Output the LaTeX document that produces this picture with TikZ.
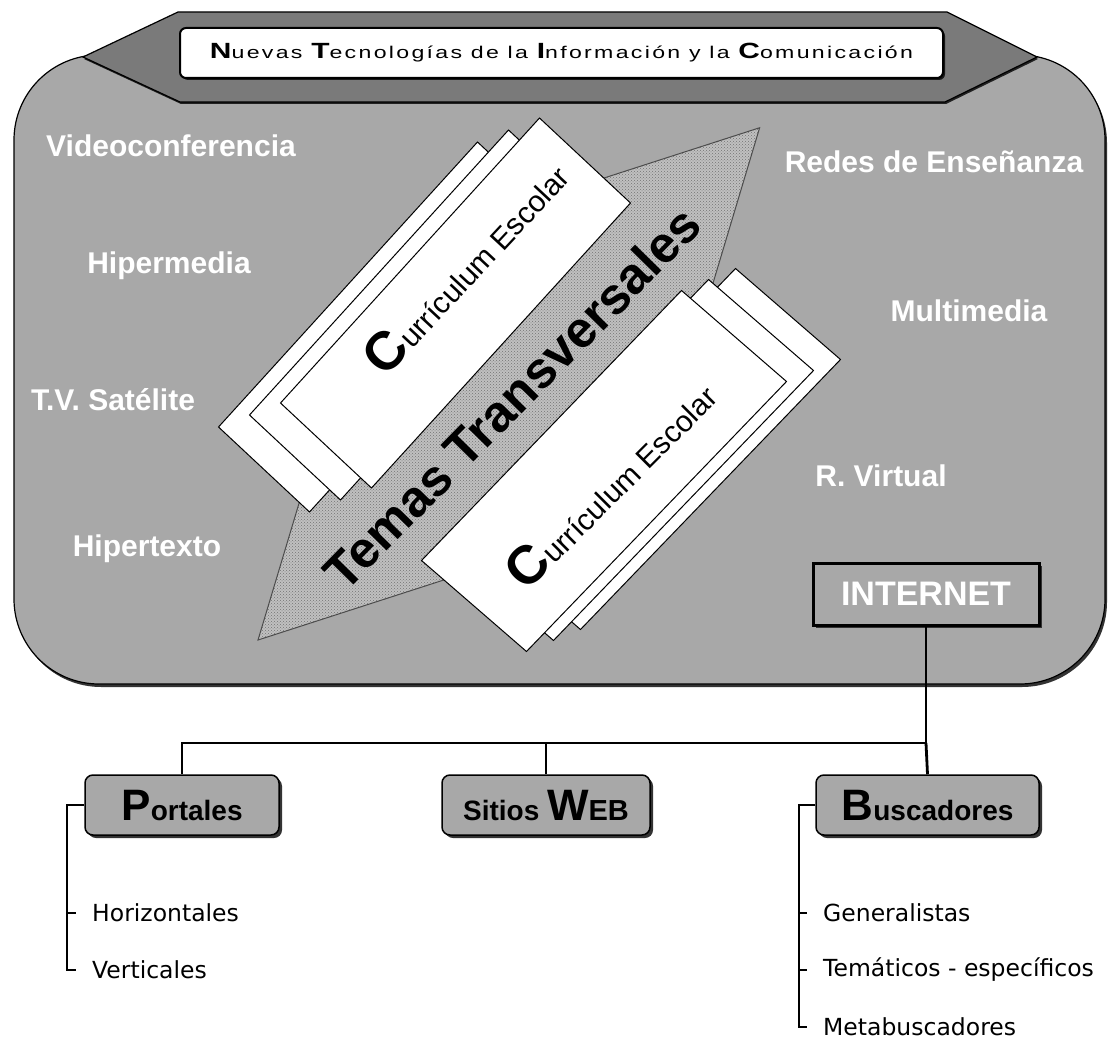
\documentclass[tikz,border=0pt]{standalone}
\usepackage{graphicx}
\usepackage{fontspec}
\setmainfont{Liberation Sans}
\newfontfamily\leaffont{DejaVu Sans}
\newfontfamily\bannerfont[LetterSpace=10]{Liberation Sans}
\usetikzlibrary{shadows,patterns}
\definecolor{bodygray}{RGB}{168,168,168}
\definecolor{bannergray}{RGB}{122,122,122}
\definecolor{arrowgray}{RGB}{192,192,192}
\newcommand{\capL}[1]{{\bfseries\fontsize{22}{22}\selectfont #1}}
\begin{document}
\begin{tikzpicture}[x=1pt,y=-1pt,
  bodybox/.style={draw=black,line width=1.2pt,fill=bodygray,rounded corners=85pt,
    minimum width=1091pt,minimum height=629pt,inner sep=0pt,
    drop shadow={shadow xshift=2pt,shadow yshift=-3pt,fill=black,opacity=0.8}},
  bannerpoly/.style={draw=black,line width=1.2pt,fill=bannergray,
    drop shadow={shadow xshift=1pt,shadow yshift=-2pt,fill=black,opacity=0.8}},
  titlebox/.style={draw=black,line width=2pt,fill=white,rounded corners=6pt,
    minimum width=763pt,minimum height=50pt,inner sep=0pt,
    drop shadow={shadow xshift=2pt,shadow yshift=-2pt,fill=black,opacity=0.8}},
  lbl/.style={text=white,font=\bfseries\fontsize{30}{30}\selectfont,inner sep=0pt},
  arrowshape/.style={preaction={fill=arrowgray},pattern=crosshatch dots,pattern color=black!55,
    draw=black!70,line width=1pt},
  paperp/.style={fill=white,draw=black,line width=1pt},
  papertext/.style={font=\fontsize{30}{30}\selectfont,inner sep=0pt},
  netbox/.style={draw=black,line width=3pt,fill=bodygray,minimum width=226pt,minimum height=62pt,
    inner sep=0pt,text=white,font=\bfseries\fontsize{34}{34}\selectfont,
    drop shadow={shadow xshift=3pt,shadow yshift=-3pt,fill=black,opacity=0.7}},
  catbox/.style={draw=black,line width=1.5pt,fill=bodygray,rounded corners=8pt,minimum height=60pt,
    inner sep=0pt,font=\bfseries,
    drop shadow={shadow xshift=3pt,shadow yshift=-3pt,fill=black,opacity=0.8}},
  conn/.style={draw=black,line width=2.8pt},
  treeline/.style={draw=black,line width=1.8pt},
  leaf/.style={anchor=west,inner sep=0pt,font=\leaffont\fontsize{23.5}{23.5}\selectfont}
]
\fill[white] (0,0) rectangle (1108,1043);
\useasboundingbox (0,0) rectangle (1108,1043);

% main body
\node[bodybox] (body) at (559.5,369.5) {};

% banner
\draw[bannerpoly] (178,12) -- (947,12) -- (1037,57) -- (945,102) -- (180,102) -- (83,57) -- cycle;
\node[titlebox] (title) at (561.5,53) {\resizebox{703pt}{\height}{\bannerfont\fontsize{17}{17}\selectfont
  \capL{N}uevas \capL{T}ecnologías de la \capL{I}nformación y la \capL{C}omunicación}};

% white labels
\node[lbl] (vid) at (171,146) {Videoconferencia};
\node[lbl] (hipm) at (169,266) {Hipermedia};
\node[lbl] (tvs) at (113,400) {T.V. Satélite};
\node[lbl] (hipt) at (147,549) {Hipertexto};
\node[lbl] (redes) at (934,162) {Redes de Enseñanza};
\node[lbl] (multi) at (969,311) {Multimedia};
\node[lbl] (rvir) at (881,476) {R. Virtual};

% double arrow
\begin{scope}[shift={(258,640)},rotate=45.6]
\path[arrowshape] (0,0) -- (200,-105) -- (200,-75) -- (517,-75) -- (517,-105) -- (717,0)
  -- (517,105) -- (517,75) -- (200,75) -- (200,105) -- cycle;
\end{scope}

% upper stack of papers
\path[paperp] (218.5,427) -- (477.5,142) -- (568.5,227) -- (309.5,512) -- cycle;
\path[paperp] (249.5,415) -- (508.5,130) -- (599.5,215) -- (340.5,500) -- cycle;
\path[paperp] (280.5,403) -- (539.5,118) -- (630.5,203) -- (371.5,488) -- cycle;
% lower stack of papers
\path[paperp] (475.5,538.5) -- (735.5,268.5) -- (840.5,359.5) -- (580.5,629.5) -- cycle;
\path[paperp] (448.5,549.5) -- (708.5,279.5) -- (813.5,370.5) -- (553.5,640.5) -- cycle;
\path[paperp] (421.5,560.5) -- (681.5,290.5) -- (786.5,381.5) -- (526.5,651.5) -- cycle;

\node[papertext,rotate=47] (cur1) at (465,266) {{\bfseries\fontsize{54}{54}\selectfont C}urrículum Escolar};
\node[papertext,rotate=45] (cur2) at (610,483) {{\bfseries\fontsize{54}{54}\selectfont C}urrículum Escolar};

\node[rotate=45.5,inner sep=0pt,font=\bfseries\fontsize{51}{51}\selectfont] (temas) at (512,398) {Temas Transversales};

% INTERNET
\node[netbox] (internet) at (926,594) {INTERNET};

% categories
\node[catbox,minimum width=194pt] (portales) at (182,805)
  {{\fontsize{44}{44}\selectfont P}{\fontsize{28}{28}\selectfont ortales}};
\node[catbox,minimum width=208pt] (sitios) at (546,805)
  {{\fontsize{28}{28}\selectfont Sitios }{\fontsize{44}{44}\selectfont W}{\fontsize{29}{29}\selectfont EB}};
\node[catbox,minimum width=223pt] (buscadores) at (927.5,805)
  {{\fontsize{44}{44}\selectfont B}{\fontsize{28}{28}\selectfont uscadores}};

\coordinate (bus) at (926,743);
\draw[conn] (internet.south) -- (bus) -| (portales.north);
\draw[conn] (sitios.north) -- (sitios.north |- bus);
\draw[conn] (bus) -- (buscadores.north);

% portales tree
\node[leaf] (hor) at (92,913) {Horizontales};
\node[leaf] (ver) at (92,970) {Verticales};
\coordinate (pt) at (67,805);
\draw[treeline] (portales.west) -- (pt) |- ([xshift=-16pt]ver.west);
\draw[treeline] (pt |- hor.west) -- ([xshift=-16pt]hor.west);

% buscadores tree
\node[leaf] (gen) at (823,913) {Generalistas};
\node[leaf] (tem) at (823,970) {Temáticos - específicos};
\node[leaf] (meta) at (823,1027) {Metabuscadores};
\coordinate (bt) at (799,805);
\draw[treeline] (buscadores.west) -- (bt) |- ([xshift=-16pt]meta.west);
\draw[treeline] (bt |- gen.west) -- ([xshift=-16pt]gen.west);
\draw[treeline] (bt |- tem.west) -- ([xshift=-16pt]tem.west);
\end{tikzpicture}
\end{document}
